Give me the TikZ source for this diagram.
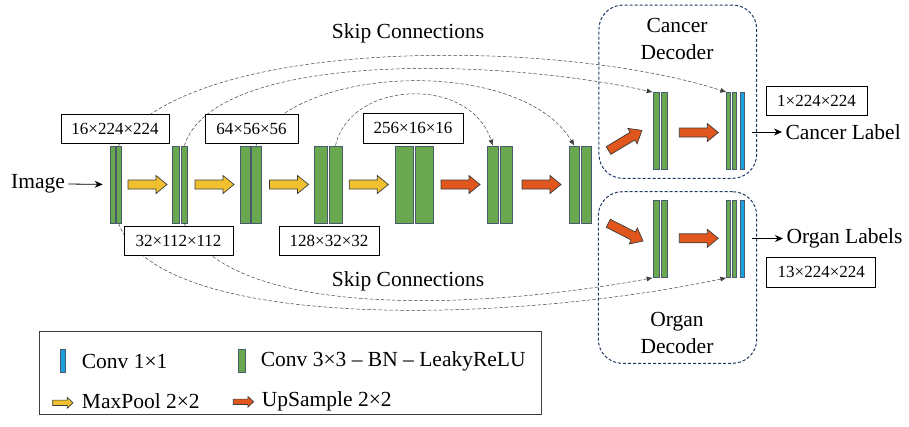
\documentclass[tikz,border=0pt]{standalone}
\usepackage{fontspec}
\setmainfont{Liberation Serif}
\usetikzlibrary{arrows.meta}
\definecolor{cgreen}{HTML}{6AA84F}
\definecolor{cblue}{HTML}{1AA0E2}
\definecolor{cyellow}{HTML}{F0C030}
\definecolor{corange}{HTML}{E0561C}
\definecolor{barline}{HTML}{4A5A6E}
\definecolor{cnavy}{HTML}{203864}
\definecolor{arrline}{HTML}{3C3C3C}
\begin{document}
\begin{tikzpicture}[x=1pt,y=-1pt,
  every node/.style={font=\fontsize{21.5}{27}\selectfont},
  gbar/.style={draw=barline, line width=0.7pt, fill=cgreen, inner sep=0pt, minimum height=77pt},
  bbar/.style={draw=barline, line width=0.7pt, fill=cblue, inner sep=0pt, minimum height=77pt},
  dimbox/.style={draw=black, line width=0.8pt, fill=white, inner sep=0pt, minimum height=29pt, font=\fontsize{17}{20}\selectfont},
  skipline/.style={draw=black!75, line width=0.5pt, dash pattern=on 3.5pt off 2pt, -{Latex[length=6pt,width=5pt]}},
  decbox/.style={draw=cnavy, line width=1pt, dash pattern=on 3pt off 2pt, rounded corners=24pt, inner sep=0pt},
  yarrow/.style={fill=cyellow, draw=arrline, line width=0.7pt},
  oarrow/.style={fill=corange, draw=arrline, line width=0.7pt},
  plainarrow/.style={draw=black, line width=0.8pt, -{Stealth[length=8pt,width=7pt]}},
  blockarrow/.pic={\path[pic actions] (0,-4.5) -- (28,-4.5) -- (28,-9) -- (39,0) -- (28,9) -- (28,4.5) -- (0,4.5) -- cycle;}
]
\useasboundingbox (0,0) rectangle (909,426);

% encoder bars
\node[gbar, minimum width=5pt] (b1a) at (112.5,184.5) {};
\node[gbar, minimum width=5pt] (b1b) at (118.5,184.5) {};
\node[gbar, minimum width=6.6pt] (b2a) at (176,184.5) {};
\node[gbar, minimum width=6.6pt] (b2b) at (184.3,184.5) {};
\node[gbar, minimum width=10pt] (b3a) at (245,184.5) {};
\node[gbar, minimum width=10pt] (b3b) at (256,184.5) {};
\node[gbar, minimum width=13pt] (b4a) at (320.5,184.5) {};
\node[gbar, minimum width=13pt] (b4b) at (335.5,184.5) {};
\node[gbar, minimum width=18pt] (b5a) at (404,184.5) {};
\node[gbar, minimum width=18pt] (b5b) at (424,184.5) {};
\node[gbar, minimum width=11.5pt] (b6a) at (492.8,184.5) {};
\node[gbar, minimum width=12pt] (b6b) at (506,184.5) {};
\node[gbar, minimum width=10pt] (b7a) at (574.3,184.5) {};
\node[gbar, minimum width=10pt] (b7b) at (586,184.5) {};

% cancer decoder bars
\node[gbar, minimum width=6.3pt] (c1a) at (656.2,131) {};
\node[gbar, minimum width=6.5pt] (c1b) at (664.3,131) {};
\node[gbar, minimum width=4pt] (c2a) at (728.7,131) {};
\node[gbar, minimum width=4pt] (c2b) at (734.7,131) {};
\node[bbar, minimum width=3.6pt] (c2c) at (742.5,131) {};
% organ decoder bars
\node[gbar, minimum width=6.3pt] (o1a) at (656.2,239) {};
\node[gbar, minimum width=6.5pt] (o1b) at (664.3,239) {};
\node[gbar, minimum width=4pt] (o2a) at (728.7,239) {};
\node[gbar, minimum width=4pt] (o2b) at (734.7,239) {};
\node[bbar, minimum width=3.6pt] (o2c) at (742.5,239) {};

% skip connections
\draw[skipline] (b1b.north) .. controls (190,35) and (560,38) .. (c2a.north west);
\draw[skipline] (b2b.north) .. controls (215,50) and (500,58) .. (c1a.north west);
\draw[skipline] (b3b.north) .. controls (290,65) and (520,55) .. (b7a.north);
\draw[skipline] (b4b.north) .. controls (350,80) and (470,75) .. (b6a.north);
\draw[skipline] (b1b.south) .. controls (160,335) and (520,322) .. (o2a.south west);
\draw[skipline] (b2b.south) .. controls (230,320) and (480,310) .. (o1a.south west);

% dimension boxes
\node[dimbox, minimum width=108pt] (l16) at (115,128.5) {16×224×224};
\node[dimbox, minimum width=93pt] (l64) at (251.5,128.5) {64×56×56};
\node[dimbox, minimum width=100pt, minimum height=30pt] (l256) at (413,128) {256×16×16};
\node[dimbox, minimum width=109pt] (l32) at (178.5,240.5) {32×112×112};
\node[dimbox, minimum width=100pt] (l128) at (329,240.5) {128×32×32};
\node[dimbox, minimum width=101pt] (l1) at (816.5,100.5) {1×224×224};
\node[dimbox, minimum width=109pt, minimum height=30pt] (l13) at (821.3,272) {13×224×224};

% decoder boxes
\node[decbox, minimum width=157.7pt, minimum height=173.3pt] (cdec) at (677.8,91.7) {};
\node[decbox, minimum width=158.4pt, minimum height=171.6pt] (odec) at (677.5,277.5) {};
\node[align=center, inner sep=0pt] (ctext) at (677,38.5) {Cancer\\Decoder};
\node[align=center, inner sep=0pt] (otext) at (677,332.5) {Organ\\Decoder};

% texts
\node (img) at (38,184) {Image};
\node (skiptop) at (408,33) {Skip Connections};
\node (skipbot) at (408,281.5) {Skip Connections};
\node[anchor=west] (clab) at (782,132) {Cancer Label};
\node[anchor=west] (olab) at (783,238.5) {Organ Labels};

\draw[plainarrow, shorten >=7pt] (img.east) -- (b1a.west);
\draw[plainarrow, shorten <=7.5pt] (c2c.east |- clab.west) -- (clab.west);
\draw[plainarrow, shorten <=7.5pt] (o2c.east |- olab.west) -- (olab.west);

% block arrows
\pic[yarrow] at (128,184.5) {blockarrow};
\pic[yarrow] at (195,184.5) {blockarrow};
\pic[yarrow] at (269.5,184.5) {blockarrow};
\pic[yarrow] at (349.3,184.5) {blockarrow};
\pic[oarrow] at (441,184.5) {blockarrow};
\pic[oarrow] at (522,184.5) {blockarrow};
\pic[oarrow, rotate=31] at (608.5,150.5) {blockarrow};
\pic[oarrow, rotate=-27] at (608.3,223.3) {blockarrow};
\pic[oarrow] at (679.3,132.5) {blockarrow};
\pic[oarrow] at (679.3,238.3) {blockarrow};

% legend
\node[draw=arrline, line width=0.8pt, minimum width=502.4pt, minimum height=82.3pt, inner sep=0pt] (legend) at (290.5,373) {};
\node[bbar, minimum width=5.7pt, minimum height=23.4pt] (lb1) at (62.8,361) {};
\node[gbar, minimum width=6.7pt, minimum height=23.4pt] (lb2) at (241.6,361) {};
\node[anchor=west, inner sep=0pt] (lt1) at (81.7,361.5) {Conv 1×1};
\node[anchor=west, inner sep=0pt] (lt2) at (260.7,361.5) {Conv 3×3 – BN – LeakyReLU};
\node[anchor=west, inner sep=0pt] (lt3) at (81.7,401.5) {MaxPool 2×2};
\node[anchor=west, inner sep=0pt] (lt4) at (261.7,401.5) {UpSample 2×2};
\pic[yarrow, xscale=0.52, yscale=0.6] at (52.7,402.8) {blockarrow};
\pic[oarrow, xscale=0.52, yscale=0.6] at (233.3,401.8) {blockarrow};
\end{tikzpicture}
\end{document}
